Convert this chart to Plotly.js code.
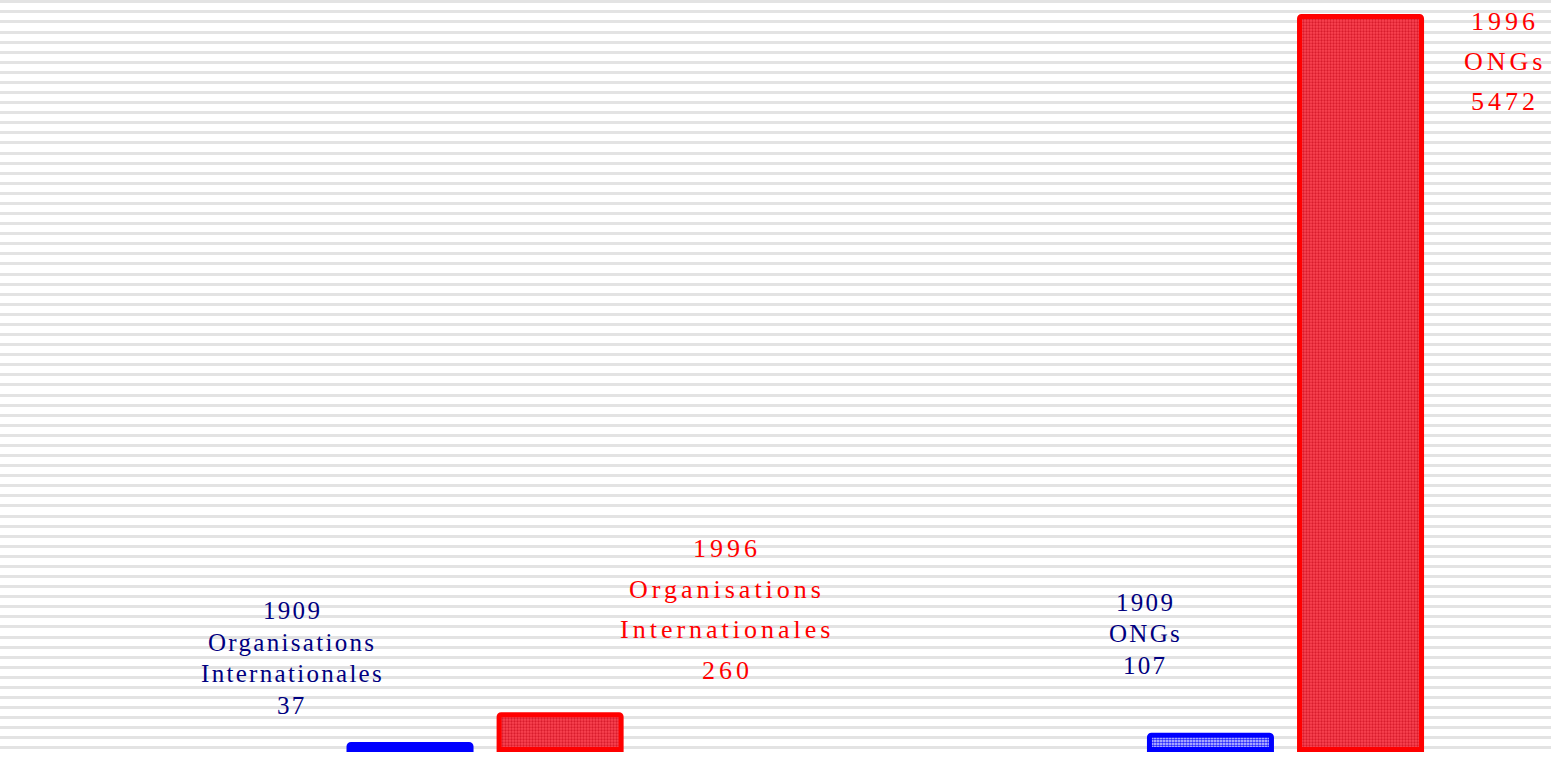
<!DOCTYPE html>
<html>
<head>
<meta charset="utf-8">
<script src="https://cdn.plot.ly/plotly-3.0.1.min.js"></script>
<style>
html,body{margin:0;padding:0;background:#fff;}
#chart{width:1551px;height:758px;}
</style>
</head>
<body>
<div id="chart"></div>
<script>
// ---- data ----
var categories = ["Organisations Internationales", "ONGs"];
var categoryLines = [["Organisations", "Internationales"], ["ONGs"]];
var years = ["1909", "1996"];
var values1909 = [37, 107];
var values1996 = [260, 5472];

// ---- styles ----
var blue = "#0000ff", red = "#ff0000";
var blueText = "#000080", redText = "#ff0000";

var traces = [
  {
    type: "bar", name: years[0], x: categories, y: values1909,
    marker: {
      color: blue, cornerradius: 2,
      line: {color: blue, width: 5},
      pattern: {shape: ".", fgcolor: "#2a2aff", bgcolor: "#dcdcff", size: 3, solidity: 0.6}
    },
    hoverinfo: "skip"
  },
  {
    type: "bar", name: years[1], x: categories, y: values1996,
    marker: {
      color: red, cornerradius: 2,
      line: {color: red, width: 5},
      pattern: {shape: ".", fgcolor: "#d81c2c", bgcolor: "#fb4452", size: 3, solidity: 0.45}
    },
    hoverinfo: "skip"
  }
];

// label placement per bar (layout only)
var labelStyle = [
  [ {xshift: -193, base: 39, spacing: 31.7, size: 25, ls: 2.3, color: blueText},
    {xshift: -140.5, base: 70, spacing: 31.5, size: 25, ls: 2.3, color: blueText} ],
  [ {xshift: 242, base: 44.5, spacing: 40.5, size: 26, ls: 4, color: redText},
    {xshift: 219.5, base: -84.5, spacing: 40, size: 26, ls: 4, color: redText} ]
];

var series = [values1909, values1996];
var annotations = [];
for (var s = 0; s < series.length; s++) {
  for (var c = 0; c < categories.length; c++) {
    var lines = [years[s]].concat(categoryLines[c]).concat([String(series[s][c])]);
    var st = labelStyle[s][c];
    var n = lines.length;
    for (var i = 0; i < n; i++) {
      annotations.push({
        x: categories[c], y: series[s][c], xref: "x", yref: "y",
        xanchor: "center", yanchor: "middle",
        xshift: st.xshift, yshift: st.base + (n - 1 - i) * st.spacing,
        showarrow: false,
        text: '<span style="letter-spacing:' + st.ls + 'px">' + lines[i] + '</span>',
        font: {family: "Liberation Serif, Times New Roman, serif", size: st.size, color: st.color}
      });
    }
  }
}

var layout = {
  width: 1551, height: 758,
  margin: {l: 0, r: 0, t: 0, b: 0, pad: 0},
  paper_bgcolor: "#ffffff", plot_bgcolor: "#ffffff",
  showlegend: false,
  barmode: "group",
  bargap: 0.625,
  bargroupgap: 0.187,
  xaxis: {
    type: "category", range: [-0.606, 1.3317],
    showgrid: false, showticklabels: false, zeroline: false, showline: false, ticks: ""
  },
  yaxis: {
    range: [-63.5, 5595.2],
    showticklabels: false, zeroline: false, showline: false, ticks: "",
    showgrid: true, tick0: 11.2, dtick: 75.28,
    gridcolor: "#e3e3e3", gridwidth: 3
  },
  annotations: annotations
};

Plotly.newPlot("chart", traces, layout, {displayModeBar: false, staticPlot: true});
</script>
</body>
</html>
